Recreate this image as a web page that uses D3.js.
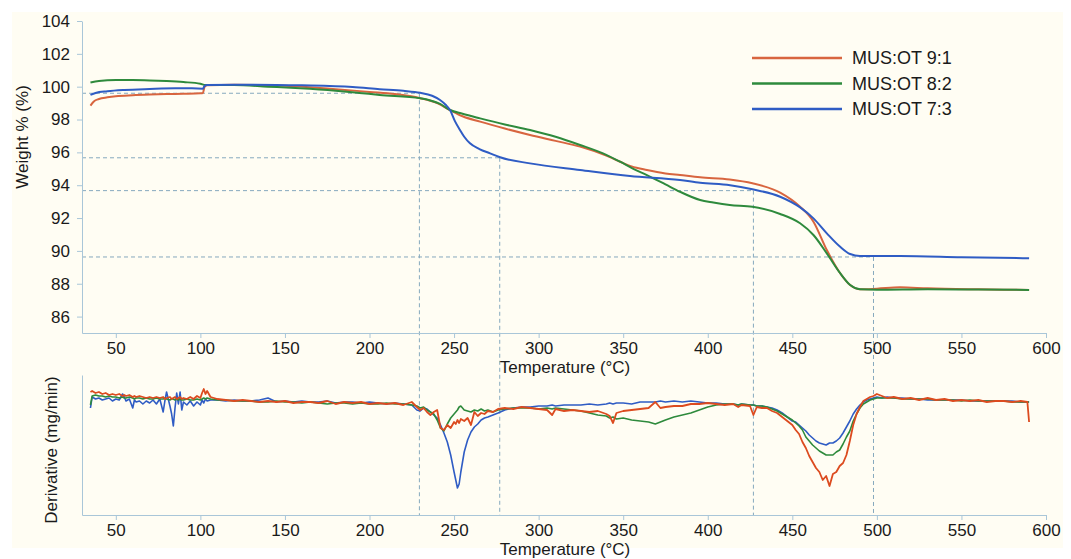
<!DOCTYPE html>
<html>
<head>
<meta charset="utf-8">
<script src="https://cdn.jsdelivr.net/npm/d3@7"></script>
<style>
  body { margin: 0; background: #fff; }
  svg text { font-family: "Liberation Sans", Arial, sans-serif; fill: #1a1a1a; }
</style>
</head>
<body>
<svg id="chart" width="1071" height="559"></svg>
<script>
// TGA weight curves: temperature (°C) and weight (%)
var seriesNames = ["MUS:OT 9:1", "MUS:OT 8:2", "MUS:OT 7:3"];

var tempW91 = [35, 37, 40, 45, 50, 60, 70, 80, 90, 100, 101.5, 102.5, 104, 120, 150, 180, 200, 215, 230, 240, 247.6, 255, 265.4, 280, 294.9, 310, 324.5, 340, 348.2, 355, 364, 375, 383.6, 395.5, 413, 426.4, 442.8, 454.6, 462.5, 470.4, 478.3, 484.2, 490, 500, 513.7, 530, 560, 590];
var weight91 = [98.85, 99.1, 99.25, 99.35, 99.42, 99.48, 99.52, 99.55, 99.57, 99.6, 99.62, 100.0, 100.08, 100.12, 100.05, 99.85, 99.68, 99.55, 99.3, 99.0, 98.58, 98.2, 97.87, 97.45, 97.06, 96.7, 96.35, 95.8, 95.43, 95.15, 94.93, 94.72, 94.62, 94.48, 94.35, 94.12, 93.55, 92.69, 91.78, 90.05, 88.64, 87.92, 87.66, 87.7, 87.78, 87.72, 87.66, 87.62];

var tempW82 = [35, 40, 50, 60, 70, 80, 90, 100, 103, 120, 140, 159, 180, 194, 206, 230, 241.7, 247.6, 255, 265.4, 280, 294.9, 310, 324.5, 340, 348.2, 356, 364, 375, 383.6, 395.5, 403.3, 413, 426.4, 442.8, 454.6, 462.5, 470.4, 478.3, 484.2, 490, 500, 530, 560, 590];
var weight82 = [100.25, 100.35, 100.4, 100.4, 100.38, 100.34, 100.28, 100.18, 100.1, 100.1, 100.0, 99.9, 99.75, 99.62, 99.5, 99.3, 98.95, 98.58, 98.35, 98.07, 97.7, 97.36, 96.95, 96.45, 95.85, 95.43, 95.0, 94.62, 94.05, 93.6, 93.1, 92.95, 92.8, 92.69, 92.25, 91.68, 90.97, 89.85, 88.64, 87.92, 87.66, 87.63, 87.66, 87.65, 87.62];

var tempW73 = [35, 38, 45, 55, 70, 85, 95, 101.5, 102.5, 104, 130, 160, 190, 206, 220, 230, 237, 241.7, 245, 247.6, 250.5, 253.5, 256, 259.4, 265, 271.3, 277.2, 294.9, 324.5, 354, 383.6, 395.5, 413.2, 426.4, 442.8, 454.6, 462.5, 470.4, 478.3, 484.2, 490, 500, 513.7, 550, 590];
var weight73 = [99.5, 99.62, 99.72, 99.8, 99.86, 99.9, 99.9, 99.88, 100.05, 100.1, 100.12, 100.08, 99.98, 99.85, 99.75, 99.63, 99.45, 99.19, 98.9, 98.58, 97.9, 97.36, 96.95, 96.55, 96.2, 95.94, 95.7, 95.33, 94.93, 94.56, 94.32, 94.15, 94.0, 93.75, 93.3, 92.65, 91.98, 91.07, 90.25, 89.81, 89.69, 89.69, 89.69, 89.62, 89.55];

// onset / end markers: temperature and weight
var guideTemp = [229.5, 277, 427, 498];
var guideWeight = [99.6, 95.67, 93.67, 89.63];

// derivative curves (arbitrary units, no scale shown on the chart)
var dTemp = [35, 36, 38, 40, 42, 44, 46, 48, 50, 52, 54, 55, 56, 58, 60, 61, 62, 64, 66, 68, 70, 72, 74, 76, 78, 79, 80, 82, 83, 84, 85, 86, 87, 88, 89, 90, 92, 94, 96, 98, 100, 101, 102, 103, 104, 106,
  110, 115, 120, 125, 130, 135, 140, 145, 150, 155, 160, 165, 170, 175, 180, 185, 190, 195, 200, 205, 210, 215, 220, 225,
  228, 230, 232, 234, 236, 238, 240, 242, 244, 246, 248, 250, 251, 252, 253, 254, 256, 258, 260, 262, 264, 266, 268, 270, 273, 276, 280, 285, 290,
  295, 300, 305, 308, 310, 315, 320, 325, 330, 335, 340, 342, 344, 346, 350, 355, 360, 365, 369, 372, 375, 380, 385, 390, 395, 400, 405, 410, 415, 418, 420, 425, 427, 429,
  432, 435, 438, 441, 444, 447, 450, 452, 454, 456, 458, 460, 462, 464, 466, 468, 470, 472, 474, 476, 478, 480, 482, 484, 486, 488, 490, 492, 494, 496, 498, 500,
  503, 506, 510, 515, 520, 525, 530, 535, 540, 545, 550, 555, 560, 565, 570, 575, 580, 585, 589, 590];

var deriv91 = [4, 5, 3, 4, 2, 3, 1, 2, 1, 2, 0, 1, 0, 1, -1, 0, -1, 0, -1, -2, -1, -2, -1, -2, -1, -3, -2, -1, -3, -2, -1, -3, -2, -1, -3, -2, -3, -1, -3, 0, -2, 3, 7, 2, 5, -1,
  -3, -4, -5, -4, -5, -6, -5, -6, -5, -7, -6, -6, -7, -5, -8, -6, -7, -6, -8, -7, -8, -7, -9, -6,
  -11, -14, -12, -16, -19, -16, -14, -32, -34, -29, -32, -26, -28, -24, -27, -23, -25, -22, -29, -16, -20, -17, -18, -15, -16, -13, -12, -13, -11,
  -12, -13, -14, -19, -13, -15, -14, -15, -16, -15, -18, -20, -27, -17, -15, -14, -13, -12, -6, -12, -11, -10, -10, -8, -8, -7, -8, -9, -8, -11, -9, -10, -19, -11,
  -12, -12, -15, -17, -21, -25, -29, -34, -38, -46, -52, -60, -66, -72, -76, -84, -80, -90, -78, -76, -70, -67, -59, -45, -29, -18, -11, -5, -3, -1, 0, 2,
  0, -2, -1, -3, -2, -4, -2, -4, -3, -5, -4, -5, -4, -6, -5, -5, -6, -5, -6, -26];

var deriv82 = [-9, 0, 1, 0, 0, -1, 0, -1, -1, -2, -1, -2, -2, -1, -2, -3, -2, -2, -3, -2, -3, -3, -2, -3, -3, -2, -3, -4, -3, -3, -4, -3, -4, -3, -4, -4, -3, -4, -4, -3, -4, -3, -2, -3, -2, -3,
  -4, -4, -5, -5, -5, -6, -6, -5, -6, -6, -7, -6, -7, -8, -7, -7, -8, -7, -8, -8, -7, -8, -8, -9,
  -10, -12, -11, -14, -16, -18, -24, -32, -35, -28, -22, -18, -16, -14, -11, -10, -14, -15, -16, -14, -15, -13, -15, -14, -16, -14, -13, -12, -12,
  -12, -13, -12, -13, -12, -13, -14, -15, -17, -19, -20, -22, -21, -23, -22, -24, -25, -26, -28, -26, -24, -21, -19, -17, -14, -11, -9, -8, -8, -9, -8, -9, -9, -10,
  -10, -11, -13, -15, -18, -21, -24, -27, -30, -34, -41, -45, -49, -52, -55, -57, -59, -59, -59, -56, -54, -48, -41, -35, -25, -18, -12, -8, -6, -4, -3, -2,
  -2, -2, -2, -3, -3, -3, -3, -4, -4, -4, -5, -4, -5, -5, -5, -5, -6, -6, -6, -6];

var deriv73 = [-12, -1, -3, -2, -4, -3, -2, -5, -3, -4, 2, -1, -5, -3, -12, -4, -6, -5, -8, -5, -7, -4, -8, -3, -16, -5, 4, -10, -18, -30, -12, 3, -8, 4, -14, -6, -9, -5, -10, -6, -9, -4, -7, -3, -5, -4,
  -4, -5, -4, -5, -5, -4, -2, -6, -5, -6, -5, -6, -6, -5, -7, -6, -6, -7, -6, -7, -8, -7, -8, -9,
  -14, -15, -12, -13, -16, -19, -22, -29, -37, -46, -59, -76, -84, -92, -88, -76, -56, -44, -36, -31, -28, -24, -22, -21, -19, -17, -14, -12, -11,
  -11, -10, -10, -9, -10, -9, -9, -9, -8, -9, -8, -7, -8, -7, -7, -8, -6, -6, -6, -5, -6, -5, -6, -5, -6, -7, -7, -8, -8, -9, -8, -9, -9, -10,
  -10, -11, -12, -14, -17, -21, -25, -26, -29, -32, -35, -39, -42, -45, -47, -48, -49, -47, -47, -45, -42, -37, -31, -25, -18, -13, -9, -6, -4, -3, -2, -1,
  -2, -1, -2, -2, -3, -3, -4, -4, -4, -4, -4, -5, -5, -5, -5, -5, -5, -6, -6, -6];

var weightColors = ["#d8653f", "#2e8a3c", "#2f5cc4"];
var derivColors = ["#dc4b1f", "#2e8a3c", "#2f5cc4"];
var axisColor = "#a9c6d8",
    guideColor = "#86a9be";

var svg = d3.select("#chart");

svg.append("rect")
    .attr("x", 12).attr("y", 12)
    .attr("width", 1051).attr("height", 536)
    .attr("fill", "#fffdf3");

var x = d3.scaleLinear().domain([30, 600]).range([82, 1046]),
    yW = d3.scaleLinear().domain([85, 104]).range([333, 21]),
    yD = d3.scaleLinear().domain([-119, 21]).range([515, 375]);

function styleAxis(g) {
  g.selectAll(".domain, .tick line").attr("stroke", axisColor);
  g.selectAll("text").attr("font-size", 17).attr("fill", "#1a1a1a")
    .attr("font-family", "Liberation Sans, Arial, sans-serif");
}

// guide lines (drawn first so curves sit on top)
var guides = svg.append("g")
    .attr("stroke", guideColor)
    .attr("stroke-width", 1)
    .attr("stroke-dasharray", "4,3")
    .attr("fill", "none");
guideTemp.forEach(function(t, i) {
  guides.append("line")
    .attr("x1", x(30)).attr("x2", x(t))
    .attr("y1", yW(guideWeight[i])).attr("y2", yW(guideWeight[i]));
  guides.append("line")
    .attr("x1", x(t)).attr("x2", x(t))
    .attr("y1", yW(guideWeight[i])).attr("y2", yD(-119));
});

// top panel axes
svg.append("g")
    .attr("transform", "translate(0," + yW(85) + ")")
    .call(d3.axisBottom(x).tickValues(d3.range(50, 601, 50)).tickSize(5).tickPadding(4).tickSizeOuter(0))
    .call(styleAxis);
svg.append("g")
    .attr("transform", "translate(" + x(30) + ",0)")
    .call(d3.axisLeft(yW).tickValues(d3.range(86, 105, 2)).tickSize(5).tickPadding(7).tickSizeOuter(0))
    .call(styleAxis);

// bottom panel axes
svg.append("g")
    .attr("transform", "translate(0," + yD(-119) + ")")
    .call(d3.axisBottom(x).tickValues(d3.range(50, 601, 50)).tickSize(5).tickPadding(4).tickSizeOuter(0))
    .call(styleAxis);
svg.append("g")
    .attr("transform", "translate(" + x(30) + ",0)")
    .call(d3.axisLeft(yD).tickValues([]).tickSizeOuter(0))
    .call(styleAxis);

// axis titles
svg.append("text")
    .attr("x", 565).attr("y", 373)
    .attr("text-anchor", "middle").attr("font-size", 17)
    .text("Temperature (°C)");
svg.append("text")
    .attr("x", 565).attr("y", 555)
    .attr("text-anchor", "middle").attr("font-size", 17)
    .text("Temperature (°C)");
svg.append("text")
    .attr("transform", "translate(28,137) rotate(-90)")
    .attr("text-anchor", "middle").attr("font-size", 17)
    .text("Weight % (%)");
svg.append("text")
    .attr("transform", "translate(57,450) rotate(-90)")
    .attr("text-anchor", "middle").attr("font-size", 17)
    .text("Derivative (mg/min)");

// weight curves
var wLine = d3.line()
    .x(function(d) { return x(d[0]); })
    .y(function(d) { return yW(d[1]); })
    .curve(d3.curveMonotoneX);
var weightData = [d3.zip(tempW91, weight91), d3.zip(tempW82, weight82), d3.zip(tempW73, weight73)];
weightData.forEach(function(pts, i) {
  svg.append("path")
    .datum(pts)
    .attr("d", wLine)
    .attr("fill", "none")
    .attr("stroke", weightColors[i])
    .attr("stroke-width", 2);
});

// derivative curves: blue, green, then orange on top
var dLine = d3.line()
    .x(function(d) { return x(d[0]); })
    .y(function(d) { return yD(d[1]); });
var derivData = [d3.zip(dTemp, deriv91), d3.zip(dTemp, deriv82), d3.zip(dTemp, deriv73)];
[2, 1, 0].forEach(function(i) {
  svg.append("path")
    .datum(derivData[i])
    .attr("d", dLine)
    .attr("fill", "none")
    .attr("stroke", derivColors[i])
    .attr("stroke-width", i === 0 ? 1.8 : 1.6)
    .attr("stroke-linejoin", "round");
});

// legend
var legend = svg.append("g");
seriesNames.forEach(function(name, i) {
  var ly = 58 + i * 25.5;
  legend.append("line")
    .attr("x1", 752).attr("x2", 842)
    .attr("y1", ly).attr("y2", ly)
    .attr("stroke", weightColors[i])
    .attr("stroke-width", 2.5);
  legend.append("text")
    .attr("x", 852).attr("y", ly)
    .attr("dy", "0.36em")
    .attr("font-size", 18)
    .text(name);
});
</script>
</body>
</html>
